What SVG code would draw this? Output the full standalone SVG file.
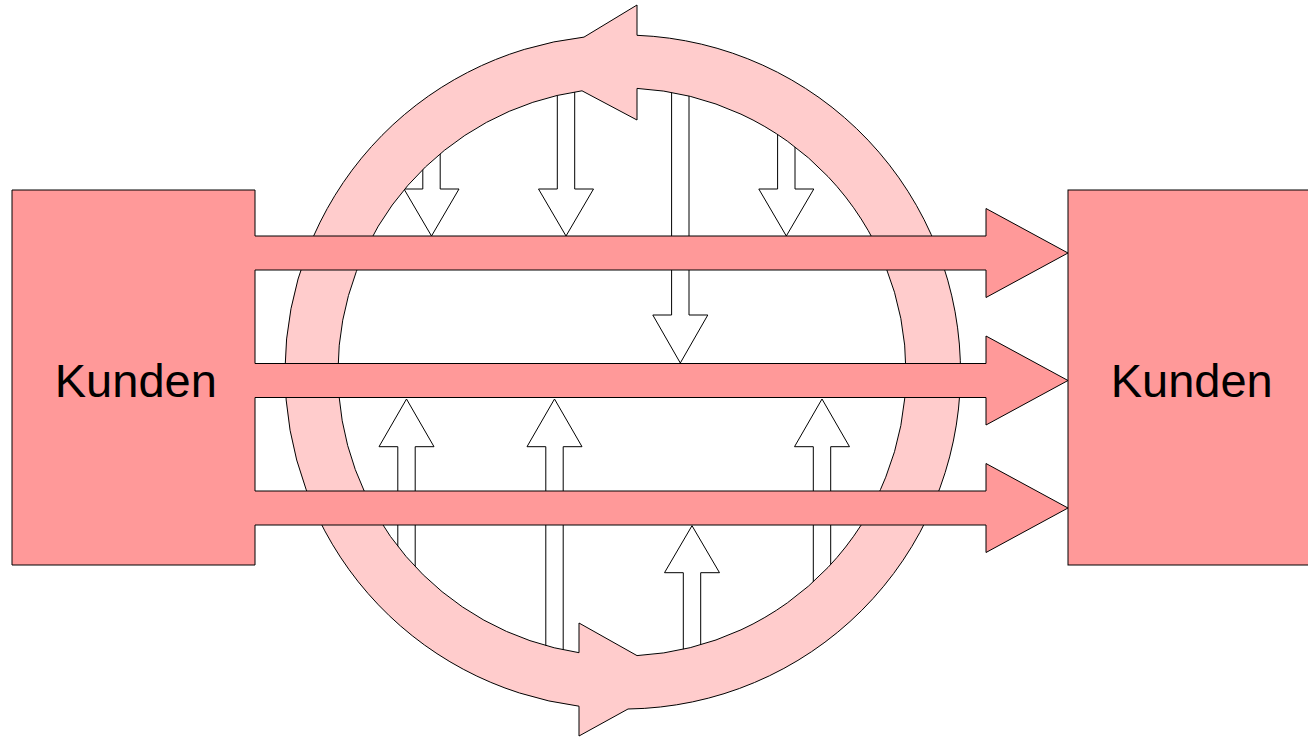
<svg xmlns="http://www.w3.org/2000/svg" width="1308" height="737" viewBox="0 0 1308 737">
<style>
.va{fill:#ffffff;stroke:#000;stroke-width:1;stroke-linejoin:miter}
.ring{fill:#ffcccc;stroke:#000;stroke-width:1;fill-rule:evenodd}
.box{fill:#ff9999;stroke:#000;stroke-width:1}
.lbl{font-family:"Liberation Sans",Arial,sans-serif;font-size:47px;fill:#000;text-anchor:middle}
</style>
<rect width="1308" height="737" fill="#ffffff"/>
<g id="connectors">
<g id="down-arrows">
<polygon class="va" points="422.8,127 440.2,127 440.2,189 459,189 431.5,236 404,189 422.8,189"/>
<polygon class="va" points="557.3,67 574.7,67 574.7,189 593.5,189 566,236 538.5,189 557.3,189"/>
<polygon class="va" points="671.6,67 689,67 689,315 707.8,315 680.3,363 652.8,315 671.6,315"/>
<polygon class="va" points="777.6,108.5 795,108.5 795,189 813.8,189 786.3,236 758.8,189 777.6,189"/>
</g>
<g id="up-arrows">
<polygon class="va" points="397.8,595 415.2,595 415.2,446.7 434,446.7 406.5,399 379,446.7 397.8,446.7"/>
<polygon class="va" points="545.8,675 563.2,675 563.2,446.7 582,446.7 554.5,399 527,446.7 545.8,446.7"/>
<polygon class="va" points="813.3,609 830.7,609 830.7,446.7 849.5,446.7 822,399 794.5,446.7 813.3,446.7"/>
<polygon class="va" points="683.3,674 700.7,674 700.7,572.7 719.5,572.7 692,525.7 664.5,572.7 683.3,572.7"/>
</g>
</g>
<g id="cycle">
<path class="ring" d="M584,37.1 A337,337 0 0 0 579,706.2 L579,736 L628,709 A337,337 0 0 0 637,35.3 L637,5 Z M582,90.8 A284,284 0 0 0 579,652.7 L579,623 L637,655.6 A284,284 0 0 0 637,88.4 L637,120 Z"/>
</g>
<g id="kunden-left">
<path class="box" d="M12,190 H255 V236 H986 V208.5 L1068,253 L986,297.5 V270 H255 V363.5 H986 V336 L1068,380.5 L986,425 V397.5 H255 V491 H986 V463.5 L1068,508 L986,552.5 V525 H255 V565 H12 Z"/>
<text class="lbl" x="135.8" y="396.5">Kunden</text>
</g>
<g id="kunden-right">
<rect class="box" x="1068" y="190" width="260" height="375"/>
<text class="lbl" x="1191.7" y="396.5">Kunden</text>
</g>
</svg>
